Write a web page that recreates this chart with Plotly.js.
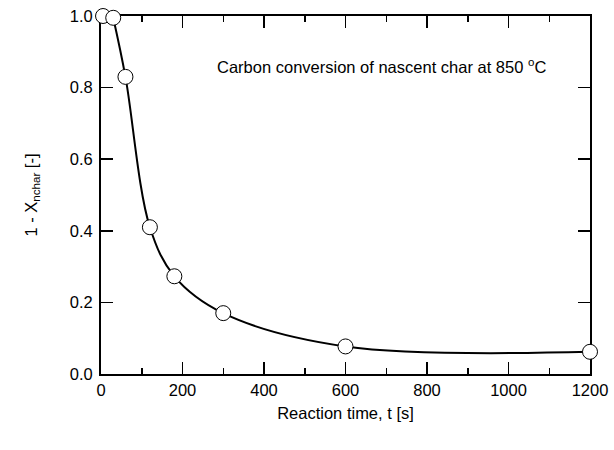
<!DOCTYPE html>
<html>
<head>
<meta charset="utf-8">
<script src="https://cdn.plot.ly/plotly-3.0.1.min.js"></script>
<style>html,body{margin:0;padding:0;background:#fff;}#chart{width:614px;height:450px;}</style>
</head>
<body>
<div id="chart"></div>
<script>
const time = [5, 30, 60, 120, 180, 300, 600, 1200];
const remaining = [1.0, 0.995, 0.83, 0.41, 0.273, 0.17, 0.077, 0.062];
const xTicks = [0, 200, 400, 600, 800, 1000, 1200];
const yTicks = [0.0, 0.2, 0.4, 0.6, 0.8, 1.0];

const font = {family: 'Liberation Sans, Arial, sans-serif', color: '#000'};
const fs = 16.5;

const traces = [
  {x: time.slice(1), y: remaining.slice(1), mode: 'lines', line: {color: '#000', width: 2, shape: 'spline', smoothing: 1}, hoverinfo: 'skip', showlegend: false},
  {x: time, y: remaining, mode: 'markers', cliponaxis: false, marker: {symbol: 'circle', size: 15, color: '#fff', line: {color: '#000', width: 1}}, showlegend: false}
];

const axBase = {showgrid: false, zeroline: false, showline: true, linecolor: '#000', linewidth: 2, ticks: 'inside', tickcolor: '#000', tickwidth: 1.5, ticklen: 12, mirror: 'allticks', tickfont: Object.assign({size: fs}, font), layer: 'below traces'};

const layout = {
  width: 614, height: 450,
  margin: {l: 101, r: 24, t: 16, b: 76},
  paper_bgcolor: '#fff', plot_bgcolor: '#fff',
  font: font,
  xaxis: Object.assign({}, axBase, {range: [0, 1200], tickvals: xTicks, ticktext: xTicks.map(String),
    minor: {dtick: 100, tick0: 0, ticks: 'inside', ticklen: 6, tickcolor: '#000', tickwidth: 1.5},
    title: {text: 'Reaction time, t [s]', font: Object.assign({size: fs}, font), standoff: 10}}),
  yaxis: Object.assign({}, axBase, {range: [0, 1.0], tickvals: yTicks, ticktext: yTicks.map(v => v.toFixed(1)), ticklabelstandoff: 3,
    title: {text: '1 - X<sub>nchar</sub> [-]', font: Object.assign({size: fs}, font), standoff: 28}}),
  annotations: [{
    xref: 'paper', yref: 'paper', x: 0.915, y: 0.86, xanchor: 'right', yanchor: 'middle', showarrow: false,
    text: 'Carbon conversion of nascent char at 850 <sup>o</sup>C', font: Object.assign({size: fs}, font)
  }]
};

Plotly.newPlot('chart', traces, layout, {displayModeBar: false, staticPlot: true});
</script>
</body>
</html>
